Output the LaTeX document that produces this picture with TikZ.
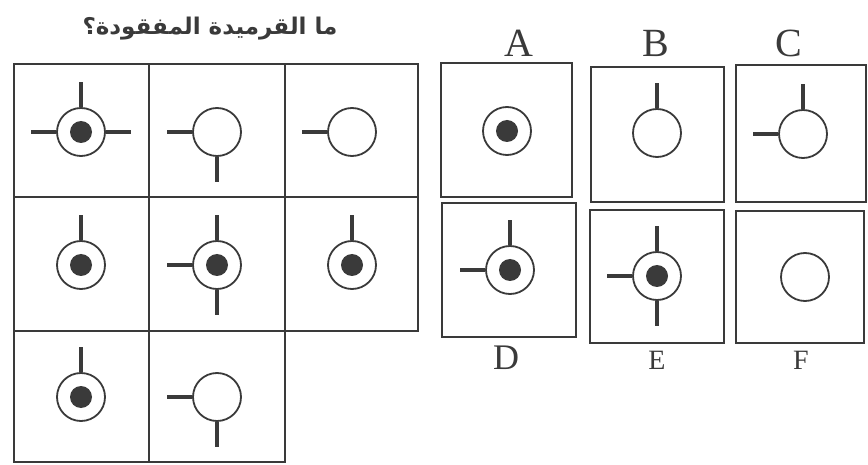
\documentclass[tikz,border=0pt]{standalone}
\usepackage{fontspec}
\setmainfont{Liberation Serif}
\newfontfamily\arabicfont[Script=Arabic]{DejaVu Sans}
\TeXXeTstate=1
\definecolor{ink}{HTML}{3A3A3A}
\tikzset{
  cellbox/.style={draw=ink, line width=1.8pt, rectangle, inner sep=0pt},
  outer/.style={draw=ink, line width=1.8pt, circle, minimum size=48pt, inner sep=0pt, fill=white},
  dotc/.style={fill=ink, circle, minimum size=22pt, inner sep=0pt},
  stick/.style={draw=ink, line width=4pt},
  lettr/.style={text=ink, font=\fontsize{40}{40}\selectfont, inner sep=0pt},
  lettrs/.style={text=ink, font=\fontsize{28}{28}\selectfont, inner sep=0pt},
}
\newcommand\mybox[5]{\node[cellbox, minimum width=#4-#2, minimum height=#5-#3] (#1) at ({(#2+#4)/2},{(#3+#5)/2}) {};}
\newcommand\ringc[3]{\node[outer] (#1) at (#2,#3) {}; \node[dotc] (#1d) at (#1.center) {};}
\newcommand\openc[3]{\node[outer] (#1) at (#2,#3) {};}
\newcommand\stT[1]{\draw[stick] (#1.north) -- ++(0,-25);}
\newcommand\stB[1]{\draw[stick] (#1.south) -- ++(0,25);}
\newcommand\stL[1]{\draw[stick] (#1.west) -- ++(-25,0);}
\newcommand\stR[1]{\draw[stick] (#1.east) -- ++(25,0);}
\begin{document}
\begin{tikzpicture}[x=1pt,y=-1pt]
\useasboundingbox (0,0) rectangle (868,465);
\fill[white] (0,0) rectangle (868,465);
% title
\node[text=ink, font=\arabicfont\bfseries\fontsize{23}{23}\selectfont, inner sep=0pt] (title) at (210,29) {\beginR ما القرميدة المفقودة؟\endR};
% grid
\mybox{g11}{14}{64}{149}{197}
\mybox{g12}{149}{64}{285}{197}
\mybox{g13}{285}{64}{418}{197}
\mybox{g21}{14}{197}{149}{331}
\mybox{g22}{149}{197}{285}{331}
\mybox{g23}{285}{197}{418}{331}
\mybox{g31}{14}{331}{149}{462}
\mybox{g32}{149}{331}{285}{462}
% row 1
\ringc{c11}{81}{132}\stT{c11}\stL{c11}\stR{c11}
\openc{c12}{217}{132}\stL{c12}\stB{c12}
\openc{c13}{352}{132}\stL{c13}
% row 2
\ringc{c21}{81}{265}\stT{c21}
\ringc{c22}{217}{265}\stT{c22}\stL{c22}\stB{c22}
\ringc{c23}{352}{265}\stT{c23}
% row 3
\ringc{c31}{81}{397}\stT{c31}
\openc{c32}{217}{397}\stL{c32}\stB{c32}
% options
\mybox{bA}{441}{63}{572}{197}
\mybox{bB}{591}{67}{724}{202}
\mybox{bC}{736}{65}{866}{202}
\mybox{bD}{442}{203}{576}{337}
\mybox{bE}{590}{210}{724}{343}
\mybox{bF}{736}{211}{864}{343}
\ringc{oA}{507}{131}
\openc{oB}{657}{133}\stT{oB}
\openc{oC}{803}{134}\stT{oC}\stL{oC}
\ringc{oD}{510}{270}\stT{oD}\stL{oD}
\ringc{oE}{657}{276}\stT{oE}\stL{oE}\stB{oE}
\openc{oF}{805}{277}
% labels
\node[lettr] (lA) at (519,43) {A};
\node[lettr] (lB) at (656,43) {B};
\node[lettr] (lC) at (789,43) {C};
\node[lettr, font=\fontsize{36}{36}\selectfont] (lD) at (506,358) {D};
\node[lettrs] (lE) at (657,360) {E};
\node[lettrs] (lF) at (801,360) {F};
\end{tikzpicture}
\end{document}
